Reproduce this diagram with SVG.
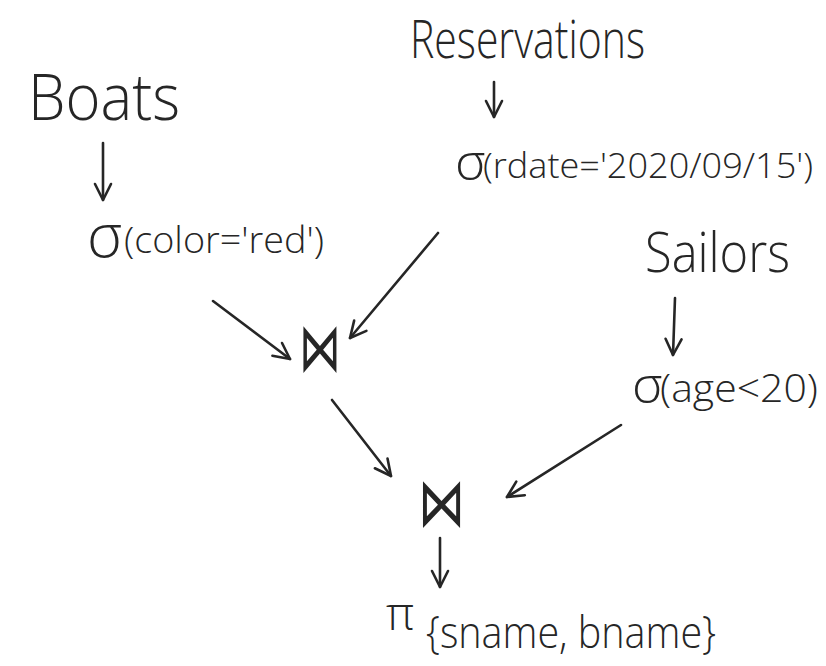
<svg xmlns="http://www.w3.org/2000/svg" width="826" height="666" viewBox="0 0 826 666">
  <style>
    .t { font-family: "Open Sans", "Liberation Sans", sans-serif; font-weight: 300; fill: #262626; }
    .op { font-family: "DejaVu Sans", sans-serif; font-weight: 200; fill: #262626; }
    .edge { stroke: #262626; stroke-width: 2.6; fill: none; stroke-linecap: round; marker-end: url(#vhead); }
  </style>
  <defs>
    <marker id="vhead" viewBox="0 0 20 20" refX="18" refY="10" markerWidth="20" markerHeight="20" markerUnits="userSpaceOnUse" orient="auto">
      <path d="M2 2 L18 10 L2 18" fill="none" stroke="#262626" stroke-width="2.6" stroke-linecap="round" stroke-linejoin="round"/>
    </marker>
  </defs>
  <rect width="826" height="666" fill="#ffffff"/>

  <g id="boats">
    <text class="t" x="28" y="120" font-size="64" textLength="152" lengthAdjust="spacingAndGlyphs">Boats</text>
  </g>
  <g id="select-color">
    <text class="t" x="87" y="257" font-size="60">σ</text>
    <text class="t" x="124" y="253" font-size="36" textLength="200" lengthAdjust="spacingAndGlyphs">(color='red')</text>
  </g>

  <g id="reservations">
    <text class="t" x="410" y="58" font-size="54" textLength="235" lengthAdjust="spacingAndGlyphs">Reservations</text>
  </g>
  <g id="select-rdate">
    <text class="t" x="455" y="180" font-size="52">σ</text>
    <text class="t" x="483" y="178" font-size="34" textLength="330" lengthAdjust="spacingAndGlyphs">(rdate='2020/09/15')</text>
  </g>

  <g id="sailors">
    <text class="t" x="645" y="272" font-size="56" textLength="145" lengthAdjust="spacingAndGlyphs">Sailors</text>
  </g>
  <g id="select-age">
    <text class="t" x="632" y="403" font-size="52">σ</text>
    <text class="t" x="660" y="402" font-size="38" textLength="158" lengthAdjust="spacingAndGlyphs">(age&lt;20)</text>
  </g>

  <g id="join-1">
    <text class="op" transform="translate(320 354) scale(0.8 1.3)" x="0" y="13" font-size="52" text-anchor="middle">⋈</text>
  </g>
  <g id="join-2">
    <text class="op" transform="translate(441 509) scale(0.9 1.3)" x="0" y="13" font-size="52" text-anchor="middle">⋈</text>
  </g>

  <g id="project">
    <text class="t" x="386" y="630" font-size="46">π</text>
    <text class="t" x="426" y="648" font-size="44" textLength="290" lengthAdjust="spacingAndGlyphs">{sname, bname}</text>
  </g>

  <g id="connectors">
    <path class="edge" d="M103 143 L103 200"/>
    <path class="edge" d="M494 82 L494 117"/>
    <path class="edge" d="M675 298 L673 355"/>
    <path class="edge" d="M213 301 L290 359"/>
    <path class="edge" d="M438 233 L350 338"/>
    <path class="edge" d="M332 400 L391 476"/>
    <path class="edge" d="M621 425 L507 497"/>
    <path class="edge" d="M440 538 L440 587"/>
  </g>
</svg>
